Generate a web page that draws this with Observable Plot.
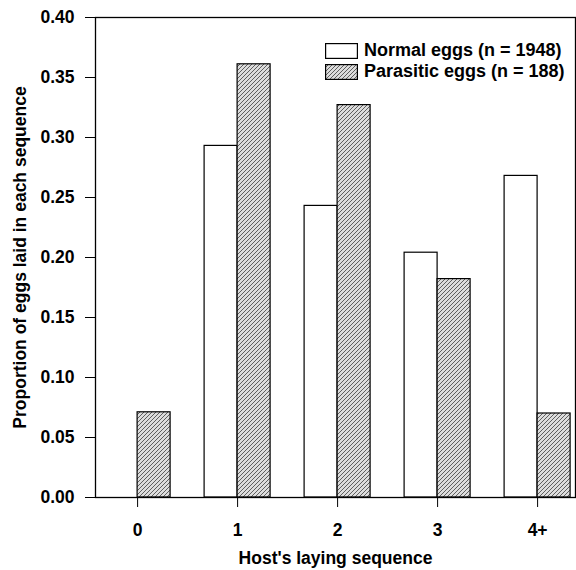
<!DOCTYPE html>
<html>
<head>
<meta charset="utf-8">
<script src="https://cdn.jsdelivr.net/npm/d3@7"></script>
<script src="https://cdn.jsdelivr.net/npm/@observablehq/plot@0.6"></script>
<style>
  body { margin: 0; background: #fff; }
  #wrap { position: relative; width: 576px; height: 570px; font-family: "Liberation Sans", Arial, Helvetica, sans-serif; }
  #wrap svg text { font-weight: bold; fill: #000; }
  .legend { position: absolute; left: 325px; top: 40px; font-weight: bold; font-size: 18px; color: #000; }
  .row { display: flex; align-items: center; height: 21px; white-space: nowrap; }
  .row svg { margin-right: 6px; display: block; }
</style>
</head>
<body>
<div id="wrap"></div>
<script>
// ---- data ----
const sequences = ["0", "1", "2", "3", "4+"];
const normalEggs = [0, 0.293, 0.243, 0.204, 0.268];
const parasiticEggs = [0.071, 0.361, 0.327, 0.182, 0.070];
const seriesLabels = ["Normal eggs (n = 1948)", "Parasitic eggs (n = 188)"];
const yTicks = [0, 0.05, 0.10, 0.15, 0.20, 0.25, 0.30, 0.35, 0.40];
const xLabel = "Host's laying sequence";
const yLabel = "Proportion of eggs laid in each sequence";

const normalRows = sequences.map((s, i) => ({seq: s, value: normalEggs[i]}));
const parasiticRows = sequences.map((s, i) => ({seq: s, value: parasiticEggs[i]}));

const W = 576, H = 570;
const mL = 95, mR = 1, mT = 17, mB = 73;
const padIn = 0.34, padOut = 0.07, alignX = 0.65;
const bw = d3.scaleBand().domain(sequences).range([mL, W - mR]).paddingInner(padIn).paddingOuter(padOut).align(alignX).bandwidth();
const half = bw / 2;

const HATCH = "url(#hatch)";

const chart = Plot.plot({
  width: W,
  height: H,
  marginLeft: mL,
  marginRight: mR,
  marginTop: mT,
  marginBottom: mB,
  style: {fontFamily: "'Liberation Sans', Arial, Helvetica, sans-serif", fontSize: "17.5px", color: "#000", background: "#fff"},
  x: {
    domain: sequences,
    paddingInner: padIn,
    paddingOuter: padOut,
    align: alignX,
    round: false,
    tickSize: 10,
    tickPadding: 16,
    label: xLabel,
    labelAnchor: "center",
    labelOffset: 66
  },
  y: {
    domain: [0, 0.4],
    ticks: yTicks,
    tickFormat: d3.format(".2f"),
    tickSize: 10,
    tickPadding: 11,
    label: yLabel,
    labelAnchor: "center",
    labelArrow: false,
    labelOffset: 82
  },
  marks: [
    Plot.barY(normalRows, {x: "seq", y: "value", fill: "#fff", stroke: "#000", strokeWidth: 1.2, insetRight: half}),
    Plot.barY(parasiticRows, {x: "seq", y: "value", fill: HATCH, stroke: "#000", strokeWidth: 1.2, insetLeft: half}),
    Plot.frame({stroke: "#000", strokeWidth: 1.3})
  ]
});

// hatch pattern definition
function addHatch(svg, id) {
  const ns = "http://www.w3.org/2000/svg";
  const defs = document.createElementNS(ns, "defs");
  const pat = document.createElementNS(ns, "pattern");
  pat.setAttribute("id", id);
  pat.setAttribute("patternUnits", "userSpaceOnUse");
  pat.setAttribute("width", "4");
  pat.setAttribute("height", "4");
  const bg = document.createElementNS(ns, "rect");
  bg.setAttribute("width", "4"); bg.setAttribute("height", "4"); bg.setAttribute("fill", "#dcdcdc");
  pat.appendChild(bg);
  [["-1", "1", "1", "-1"], ["0", "4", "4", "0"], ["3", "5", "5", "3"]].forEach(([x1, y1, x2, y2]) => {
    const l = document.createElementNS(ns, "line");
    l.setAttribute("x1", x1); l.setAttribute("y1", y1); l.setAttribute("x2", x2); l.setAttribute("y2", y2);
    l.setAttribute("stroke", "#505050"); l.setAttribute("stroke-width", "0.9");
    pat.appendChild(l);
  });
  defs.appendChild(pat);
  svg.insertBefore(defs, svg.firstChild);
}
addHatch(chart, "hatch");

const wrap = document.getElementById("wrap");
wrap.appendChild(chart);

// legend inside plot area (top right)
const legend = document.createElement("div");
legend.className = "legend";
seriesLabels.forEach((label, i) => {
  const row = document.createElement("div");
  row.className = "row";
  const sw = d3.create("svg").attr("width", 33).attr("height", 16);
  if (i === 1) addHatch(sw.node(), "hatchLegend");
  sw.append("rect").attr("x", 0.6).attr("y", 0.6).attr("width", 31.8).attr("height", 14.8)
    .attr("fill", i === 0 ? "#fff" : "url(#hatchLegend)").attr("stroke", "#000").attr("stroke-width", 1.2);
  row.appendChild(sw.node());
  const span = document.createElement("span");
  span.textContent = label;
  row.appendChild(span);
  legend.appendChild(row);
});
wrap.appendChild(legend);
</script>
</body>
</html>
